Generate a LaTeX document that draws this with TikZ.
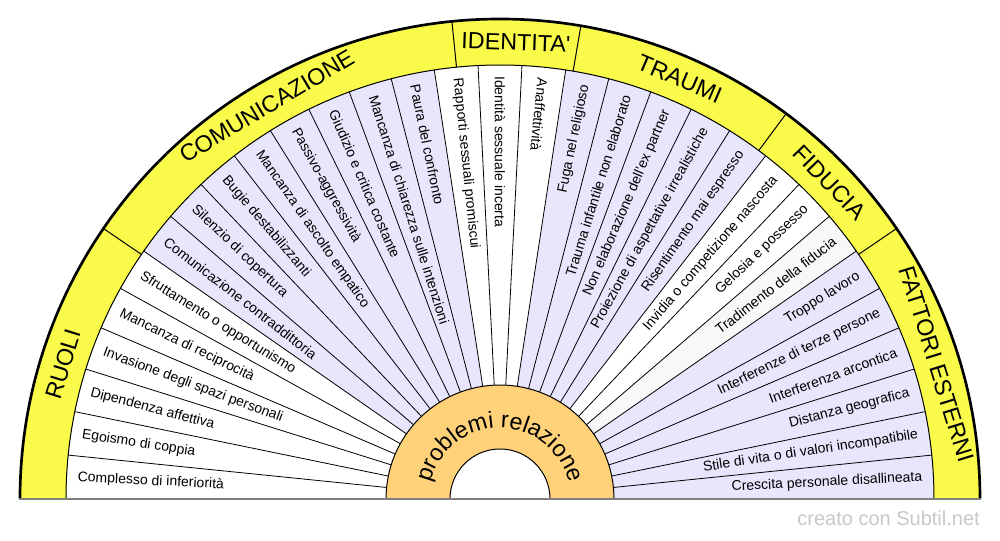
\documentclass[tikz,border=0pt]{standalone}
\usepackage{fontspec}
\setmainfont{Liberation Sans}
\usetikzlibrary{decorations.text}
\definecolor{lav}{HTML}{E8E6FC}
\definecolor{ylw}{HTML}{FAFA4B}
\definecolor{hubc}{HTML}{FFD27A}
\definecolor{offw}{HTML}{F8F8F8}
\definecolor{wm}{HTML}{C8C8C8}
\begin{document}
\begin{tikzpicture}[x=0.75pt,y=0.75pt,
  spoke/.style={line width=0.6pt},
  thinline/.style={line width=0.75pt},
  itemlbl/.style={inner sep=0pt, font=\fontsize{10.5}{12}\selectfont},
  bandlbl/.style={inner sep=0pt, font=\fontsize{17.5}{20}\selectfont},
]
\fill[white] (-500,-41) rectangle (500,499);
\useasboundingbox (-500,-41) rectangle (500,499);
\pgfmathsetmacro{\w}{180/31}
% coloured sectors
\foreach \s/\e/\c in {6/14/lav,17/22/lav,24/25/offw,25/31/lav}{
  \pgfmathsetmacro{\aa}{180-\s*\w}
  \pgfmathsetmacro{\bb}{180-\e*\w}
  \fill[\c] (\aa:114) -- (\aa:434) arc[start angle=\aa, end angle=\bb, radius=434] -- (\bb:114) -- cycle;
}
% spokes
\foreach \k in {1,...,30}{
  \pgfmathsetmacro{\aa}{180-\k*\w}
  \draw[spoke] (\aa:114) -- (\aa:434);
}
% hub
\fill[hubc] (-114,0) arc[start angle=180,end angle=0,radius=114] -- (50,0) arc[start angle=0,end angle=180,radius=50] -- cycle;
\fill[white] (-50,0) arc[start angle=180,end angle=0,radius=50] -- cycle;
\draw[thinline] (-114,0) arc[start angle=180,end angle=0,radius=114];
\draw[thinline] (-50,0) arc[start angle=180,end angle=0,radius=50];
\path[decorate, decoration={text along path, text align=center,
  text={|\fontsize{17.5}{20}\selectfont|problemi relazione}}]
  (180:71) arc[start angle=180,end angle=0,radius=71];
% yellow band
\fill[ylw] (180:480) arc[start angle=180,end angle=0,radius=480] -- (0:434) arc[start angle=0,end angle=180,radius=434] -- cycle;
\draw[thinline] (180:434) arc[start angle=180,end angle=0,radius=434];
\foreach \a in {145.7,95.75,80.3,53.4,34.3}{
  \draw[thinline] (\a:434) -- (\a:480);
}
\draw[line width=2pt] (180:480) arc[start angle=180,end angle=0,radius=480];
\draw[gray, line width=1pt] (-481,0) -- (481,0);
% band labels
\node[bandlbl, rotate=72.85] (b1) at (162.85:457) {RUOLI};
\node[bandlbl, rotate=30.7] (b2) at (120.7:457) {COMUNICAZIONE};
\node[bandlbl, rotate=-2] (b3) at (88:457) {IDENTITA\textquotesingle};
\node[bandlbl, rotate=-23.15] (b4) at (66.85:457) {TRAUMI};
\node[bandlbl, rotate=-46.15] (b5) at (43.85:457) {FIDUCIA};
\node[bandlbl, rotate=-72.85] (b6) at (17.15:457) {FATTORI ESTERNI};
% item labels
\foreach \t [count=\k] in {Complesso di inferiorità, Egoismo di coppia, Dipendenza affettiva,
  Invasione degli spazi personali, Mancanza di reciprocità, Sfruttamento o opportunismo,
  Comunicazione contraddittoria, Silenzio di copertura, Bugie destabilizzanti,
  Mancanza di ascolto empatico, Passivo-aggressività, Giudizio e critica costante,
  Mancanza di chiarezza sulle intenzioni, Paura del confronto, Rapporti sessuali promiscui,
  Identità sessuale incerta, Anaffettività, Fuga nel religioso, Trauma infantile non elaborato,
  Non elaborazione dell\textquotesingle ex partner, Proiezione di aspettative irrealistiche,
  Risentimento mai espresso, Invidia o competizione nascosta, Gelosia e possesso,
  Tradimento della fiducia, Troppo lavoro, Interferenze di terze persone,
  Interferenza arcontica, Distanza geografica, Stile di vita o di valori incompatibile,
  Crescita personale disallineata}{
  \pgfmathsetmacro{\m}{180-(\k-0.5)*\w}
  \ifnum\k<18
    \node[itemlbl, anchor=west, rotate=\m-180] (l\k) at (\m:423) {\t};
  \else
    \node[itemlbl, anchor=east, rotate=\m] (l\k) at (\m:423) {\t};
  \fi
}
\node[anchor=east, inner sep=0pt, text=wm, font=\fontsize{15}{18}\selectfont] (wmk) at (480,-19.5) {creato con Subtil.net};
\end{tikzpicture}
\end{document}
